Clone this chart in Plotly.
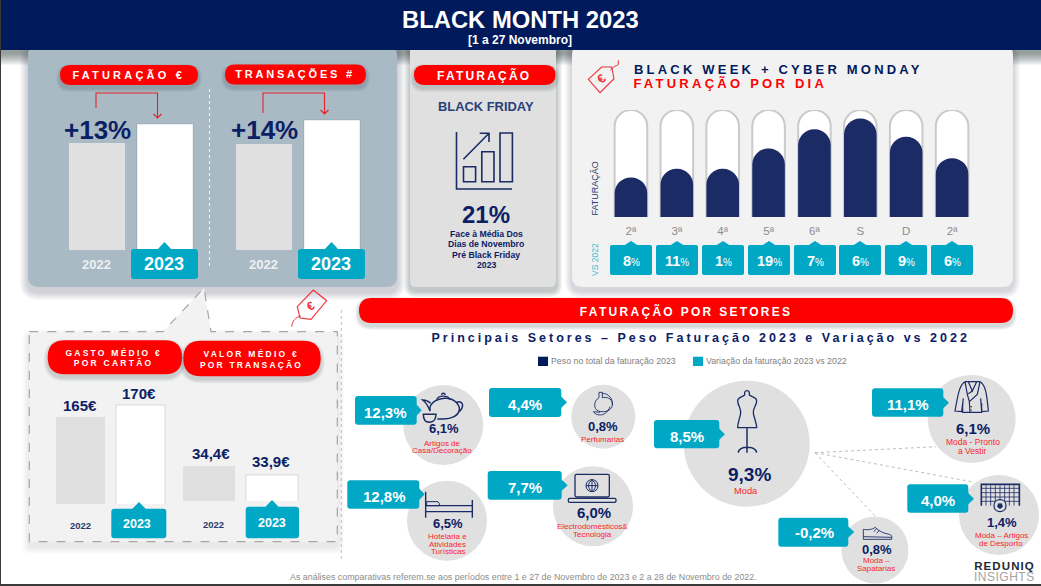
import json
import re

import plotly.graph_objects as go

W, H = 1041, 586

# data
anos = ["2022", "2023"]
faturacao_idx = [100, 113]
transacoes_idx = [100, 114]
gasto_cartao = [165, 170]
valor_transacao = [34.4, 33.9]
delta_faturacao = "+13%"
delta_transacoes = "+14%"
black_friday_delta = "21%"

dias = ["2ª", "3ª", "4ª", "5ª", "6ª", "S", "D", "2ª"]
dias_faturacao = [37, 45, 45, 64, 82, 92, 75, 55]
dias_escala = [100] * 8
dias_variacao = [8, 11, 1, 19, 7, 6, 9, 6]

setores = [
    ["Artigos de", "Casa/Decoração"],
    ["Perfumarias"],
    ["Hotelaria e", "Atividades", "Turísticas"],
    ["Electrodomésticos&", "Tecnologia"],
    ["Moda"],
    ["Moda - Pronto", "a Vestir"],
    ["Moda – Artigos", "de Desporto"],
    ["Moda –", "Sapatarias"],
]
setores_peso = [6.1, 0.8, 6.5, 6.0, 9.3, 6.1, 1.4, 0.8]
setores_variacao = [12.3, 4.4, 12.8, 7.7, 8.5, 11.1, 4.0, -0.2]

NAVY = "#001A5C"
INK = "#0C2064"
BAR_NAVY = "#1A2B66"
RED = "#FF0000"
TEAL = "#00A8C6"
GREY = "#E0E0E0"
TAG_RED = "#F0303A"
FONT = "Liberation Sans"

shapes = []
annotations = []
spacing = {}


def fx(x):
    return x / W


def fy(y):
    return 1 - y / H


def to_paper(path, ox=0, oy=0, s=1):
    # every coordinate in the path is absolute, x then y
    out, is_x = [], True
    for tok in re.findall(r"[A-Za-z]|-?[\d.]+", path):
        if tok.isalpha():
            out.append(tok)
        else:
            v = float(tok)
            out.append(f"{fx(ox + v * s):.5f}" if is_x else f"{fy(oy + v * s):.5f}")
            is_x = not is_x
    return " ".join(out)


def add_path(path, fill=None, line=None, lw=1, dash=None, layer="below", ox=0, oy=0, s=1):
    shapes.append(dict(
        type="path", path=to_paper(path, ox, oy, s), xref="paper", yref="paper", layer=layer,
        fillcolor=fill or "rgba(0,0,0,0)",
        line=dict(color=line or "rgba(0,0,0,0)", width=lw if line else 0, dash=dash or "solid"),
    ))


def rr(x0, y0, x1, y1, r):
    return (f"M {x0+r} {y0} L {x1-r} {y0} Q {x1} {y0} {x1} {y0+r} L {x1} {y1-r} Q {x1} {y1} {x1-r} {y1} "
            f"L {x0+r} {y1} Q {x0} {y1} {x0} {y1-r} L {x0} {y0+r} Q {x0} {y0} {x0+r} {y0} Z")


def shadow(x0, y0, x1, y1, r, dy=4, n=7, alpha=0.028):
    for i in range(n, 0, -1):
        add_path(rr(x0 - i, y0 - i + dy, x1 + i, y1 + i + dy, r + i), fill=f"rgba(40,50,60,{alpha})")


def card(x0, y0, x1, y1, r, fill, **kw):
    shadow(x0, y0, x1, y1, r, **kw)
    add_path(rr(x0, y0, x1, y1, r), fill=fill)


def pill(x0, y0, x1, y1, r=None):
    r = r if r is not None else (y1 - y0) / 2
    shadow(x0, y0, x1, y1, r, dy=3, n=4, alpha=0.05)
    add_path(rr(x0, y0, x1, y1, r), fill=RED)


def tab_up(x0, y0, x1, y1, ax, ay, r=3):
    add_path(rr(x0, y0, x1, y1, r), fill=TEAL, layer="above")
    add_path(f"M {ax-7} {y0+0.5} L {ax} {ay} L {ax+7} {y0+0.5} Z", fill=TEAL, layer="above")


def tile_right(x0, y0, x1, y1, ax, ay, r=3):
    add_path(rr(x0, y0, x1, y1, r), fill=TEAL, layer="above")
    add_path(f"M {x1-0.5} {ay-6} L {ax} {ay} L {x1-0.5} {ay+6} Z", fill=TEAL, layer="above")


def txt(x, y, s, size, color, bold=False, angle=0, ls=None):
    if ls:
        spacing[len(annotations)] = ls
    annotations.append(dict(
        x=fx(x), y=fy(y), xref="paper", yref="paper", text=s, showarrow=False,
        xanchor="center", yanchor="middle", textangle=angle,
        font=dict(family=FONT, size=size, color=color, weight=700 if bold else 400),
    ))


def line(path, color, lw=1, dash=None, layer="below", **kw):
    add_path(path, line=color, lw=lw, dash=dash, layer=layer, **kw)


# header shadow
shadow(0, 0, W, 50, 0, dy=3, n=12, alpha=0.05)

# panel 1
card(28, 45, 397, 287, 10, "#A9BAC5", dy=5, n=8)
pill(60, 65, 198, 85)
pill(225, 64.5, 366, 84.5)
txt(128.5, 75, "FATURAÇÃO €", 11, "white", True, ls=3.2)
txt(295, 74.5, "TRANSAÇÕES #", 11, "white", True, ls=2.8)
line("M 209.5 89 L 209.5 269", "#F4F6F8", 1, "dot")
red_l = "#E5232B"
line("M 96 108 L 96 93 L 157.5 93 L 157.5 118 M 153.5 114 L 157.5 118 L 161.5 114", red_l, 1.1)
line("M 263 113 L 263 93 L 324.5 93 L 324.5 114 M 320.5 110 L 324.5 114 L 328.5 110", red_l, 1.1)
txt(97.5, 130, delta_faturacao, 26, INK, True)
txt(264, 130, delta_transacoes, 26, INK, True)
tab_up(131, 249, 198, 279, 164.5, 242)
tab_up(298, 249, 365, 279, 331.5, 242)
txt(96, 264.5, anos[0], 13, "#EEF1F3", True)
txt(164, 264, anos[1], 18, "white", True)
txt(263, 264.5, anos[0], 13, "#EEF1F3", True)
txt(331, 264, anos[1], 18, "white", True)

# panel 2
card(410, 45, 556, 287, 6, GREY, dy=4, n=6, alpha=0.05)
pill(414, 65, 555.5, 85)
txt(484, 75, "FATURAÇÃO", 12, "white", True, ls=2.2)
txt(486, 106.5, "BLACK FRIDAY", 12.9, "#2B3F78", True)
line("M 456.5 132 L 456.5 189 L 512 189", "#1A2B66", 1.6)
for bx0, by0, bx1 in [(463.5, 166.7, 475.6), (481.8, 151.7, 494), (500, 133, 512.4)]:
    line(f"M {bx0} {by0} L {bx1} {by0} L {bx1} 181.7 L {bx0} 181.7 Z", "#1A2B66", 1.6)
line("M 463.4 159.3 L 489 133.3 M 479.7 133.3 L 489 133.3 L 489 142", "#1A2B66", 1.6)
txt(486, 214, black_friday_delta, 24, INK, True)
for yy, s in zip([234, 244, 255, 265], ["Face à Média Dos", "Dias de Novembro", "Pré Black Friday", "2023"]):
    txt(486, yy, s, 8.7, INK, True)

# panel 3
card(572, 45, 1013, 287, 10, "#F2F2F2", dy=4, n=7)

# header bar goes over the tops of the cards
add_path(f"M 0 0 L {W} 0 L {W} 50 L 0 50 Z", fill=NAVY)
txt(520.5, 19, "BLACK MONTH 2023", 23.8, "white", True)
txt(520, 40, "[1 a 27 Novembro]", 12, "white", True)

line("M 588.3 79.3 L 601.7 67 L 611.7 67 L 614 78.7 L 600 92.7 Z", TAG_RED, 1.1)
line("M 610.7 70.3 C 612 67 616 66 618.3 64.7 L 618.3 60.3", TAG_RED, 1)
txt(601.5, 79, "€", 12.5, TAG_RED, True, angle=-40)
txt(778, 69.5, "BLACK WEEK + CYBER MONDAY", 13, NAVY, True, ls=3.2)
txt(730.5, 83.5, "FATURAÇÃO POR DIA", 13, RED, True, ls=3.25)
txt(594.5, 189, "FATURAÇÃO", 9, "#2A3A6A", angle=-90)
txt(595, 260, "VS 2022", 8.5, "#44BAD0", angle=-90)
dias_x = [631, 677, 723, 769, 815, 860, 906, 952]
for cx, v in zip(dias_x, dias_variacao):
    tab_up(cx - 21, 245, cx + 21, 275, cx, 241, r=2)
    txt(cx, 261, f'<b>{v}</b><span style="font-size:10px">%</span>', 14.5, "white")

# gasto / valor panel
call = "M 29.3 331.7 L 163 331.7 L 204 288 L 211 331.7 L 337.3 331.7 L 337.3 541.7 L 29.3 541.7 Z"
for i in range(7, 0, -1):
    add_path(rr(29.3 - i, 331.7 - i + 5, 337.3 + i, 541.7 + i + 5, 2 + i), fill="rgba(40,50,60,0.015)")
add_path(call, fill="#F2F2F2", line="#A6A6A6", lw=1.2, dash="dash")
pill(47.7, 340.3, 182, 374.3)
pill(183.3, 340.7, 320.7, 376.3)
txt(114, 352.7, "GASTO MÉDIO €", 8.5, "white", True, ls=2.25)
txt(114, 363, "POR CARTÃO", 8.5, "white", True, ls=2.25)
txt(251, 354, "VALOR MÉDIO €", 8.5, "white", True, ls=2.25)
txt(251, 364.5, "POR TRANSAÇÃO", 8.5, "white", True, ls=2.15)
line("M 297.3 306.7 L 313.3 290 L 326.7 300.7 L 311 319.3 L 300 318 Z", TAG_RED, 1.1)
line("M 300.7 316 C 296 317 292 321 291.7 326.7", TAG_RED, 1)
txt(310.7, 305.5, "€", 12, TAG_RED, True, angle=-30)
line("M 341.3 310 L 341.3 562", "#BDBDBD", 1, "dot")


def euro(v):
    return f"{v:g}".replace(".", ",") + "€"


txt(79.5, 405, euro(gasto_cartao[0]), 15, INK, True)
txt(139, 393.5, euro(gasto_cartao[1]), 15, INK, True)
txt(211, 453.5, euro(valor_transacao[0]), 15, INK, True)
txt(271, 461.7, euro(valor_transacao[1]), 15, INK, True)
tab_up(111.3, 508.7, 166.3, 538.3, 139, 502)
tab_up(245.7, 506.7, 299, 538.3, 272, 500)
txt(80.7, 525, anos[0], 9.5, "#2A3A6A", True)
txt(137, 524, anos[1], 12.5, "white", True)
txt(213, 524, anos[0], 9.5, "#2A3A6A", True)
txt(272, 523, anos[1], 12.5, "white", True)

# sector header and legend
pill(359, 298, 1013, 323)
txt(685.5, 311, "FATURAÇÃO POR SETORES", 12, "white", True, ls=2.3)
txt(700, 338, "Principais Setores – Peso Faturação 2023 e Variação vs 2022", 12.5, INK, True, ls=3.0)
add_path("M 538 356.7 L 548 356.7 L 548 366 L 538 366 Z", fill=NAVY)
txt(613.5, 361, "Peso no total da faturação 2023", 8.8, "#808080")
add_path("M 693 356.7 L 703 356.7 L 703 366 L 693 366 Z", fill=TEAL)
txt(776.5, 361, "Variação da faturação 2023 vs 2022", 8.8, "#808080")

# layout of the sector bubbles: circle, tile, pct label, name label
bubbles = [
    dict(c=(443.3, 425, 40), t=(355, 396, 416.7, 424.7, 421.7, 410.3), tt=(385.7, 412), p=(444.3, 428.7, 13), n=(442, 443.3), ln=7.4, fs=8),
    dict(c=(603.3, 416.7, 32), t=(489, 388, 561.3, 417, 567, 402.3), tt=(525, 404), p=(602.7, 426.7, 13), n=(602.7, 439.3), ln=7.4, fs=8),
    dict(c=(447, 520.7, 40), t=(347.3, 480.3, 419.3, 508.7, 424.7, 494.3), tt=(384, 496), p=(448, 523.7, 13), n=(447.7, 536.3), ln=7.7, fs=8),
    dict(c=(593, 506.3, 40), t=(487.7, 471, 561.7, 499.7, 567.7, 485.3), tt=(525, 487), p=(593.7, 512, 15), n=(592, 526.3), ln=8, fs=8),
    dict(c=(746.7, 443.7, 63), t=(654, 420, 719.3, 448.3, 725, 434.3), tt=(687.3, 436), p=(749, 474.7, 19), n=(746.3, 490.7), ln=9, fs=9.3),
    dict(c=(971.7, 419, 44), t=(872, 388.3, 943.3, 416.7, 949, 402.7), tt=(908.3, 404), p=(973.3, 428.3, 15), n=(972.7, 442), ln=9, fs=8.5),
    dict(c=(999, 515, 40), t=(907.3, 484.3, 968.3, 512.7, 974, 498.7), tt=(937.7, 500), p=(1001.7, 522.7, 13), n=(1001, 535.3), ln=8, fs=8),
    dict(c=(875, 550, 33.5), t=(778.3, 517.7, 848.3, 546.7, 854.3, 532), tt=(814.3, 532.7), p=(876.7, 549, 13), n=(876.3, 560.3), ln=8, fs=8),
]


def pct(v):
    return f"{v:.1f}".replace(".", ",") + "%"


for b in bubbles:
    cx, cy, r = b["c"]
    shapes.append(dict(type="circle", xref="paper", yref="paper", layer="below",
                       x0=fx(cx - r), x1=fx(cx + r), y0=fy(cy + r), y1=fy(cy - r),
                       fillcolor=GREY, line=dict(width=0)))
line("M 815 452.7 L 936 446.7", "#BDBDBD", 1, "dot")
line("M 815 452.7 L 971.7 481.7", "#BDBDBD", 1, "dot")
line("M 815 452.7 L 876.7 517.7", "#BDBDBD", 1, "dot")

for b, nome, peso, var in zip(bubbles, setores, setores_peso, setores_variacao):
    tile_right(*b["t"])
    txt(*b["tt"], pct(var), 15, "white", True)
    txt(b["p"][0], b["p"][1], pct(peso), b["p"][2], INK, True)
    for i, s in enumerate(nome):
        txt(b["n"][0], b["n"][1] + i * b["ln"], s, b["fs"], "#FA1E2E")

# icons, drawn in crop coordinates (s=1/3)
ic = dict(layer="above", s=1 / 3)
z4 = dict(ox=340, oy=295, **ic)
z5 = dict(ox=640, oy=340, **ic)
# teapot
tp = dict(ox=410, oy=385, **ic)
line("M 60 78 C 55 50 90 38 110 40 C 135 42 150 60 148 75 C 145 92 125 102 100 102 L 82 102", BAR_NAVY, 1.5, **tp)
line("M 80 44 C 85 30 115 30 120 44 M 95 30 C 95 23 105 23 105 30", BAR_NAVY, 1.4, **tp)
line("M 60 78 C 55 65 45 50 38 45 C 45 45 55 48 62 55 M 140 52 C 158 46 165 62 148 80", BAR_NAVY, 1.5, **tp)
line("M 40 88 L 78 88 C 78 105 68 112 58 112 C 48 112 40 105 40 88 Z", BAR_NAVY, 1.5, **tp)
# perfume
pf = dict(ox=585, oy=385, **ic)
line("M 42 22 L 52 22 L 52 38 M 42 22 L 42 38 C 25 48 25 72 40 78 C 60 85 85 75 82 55 C 80 40 65 35 52 38", BAR_NAVY, 0.9, **pf)
line("M 25 80 C 35 95 65 95 75 65 M 52 25 C 70 25 85 42 82 60 M 25 80 L 45 82", BAR_NAVY, 0.9, **pf)
# bed
line("M 257 590 L 257 668 M 397 615 L 397 668 M 257 632 L 397 632 M 257 650 L 397 650", BAR_NAVY, 1.4, **z4)
line("M 260 620 L 294 620 L 298 626 L 298 632 L 260 632 Z", BAR_NAVY, 1, **z4)
# laptop
line(rr(705, 538, 808, 606, 5), BAR_NAVY, 1.3, **z4)
line(rr(685, 610, 828, 622, 4), BAR_NAVY, 1.3, **z4)
line("M 738 572 C 738 548 774 548 774 572 C 774 596 738 596 738 572 Z M 738 572 L 774 572 M 756 554 L 756 590 M 756 554 C 742 565 742 580 756 590 M 756 554 C 770 565 770 580 756 590", BAR_NAVY, 1, **z4)
# mannequin
line("M 314 165 C 305 172 293 172 293 182 C 293 198 305 205 302 220 C 300 232 293 250 293 263 L 350 263 C 350 250 342 232 340 220 C 337 205 350 198 350 182 C 350 172 337 172 328 165 L 328 157 C 325 150 317 150 314 157 Z", BAR_NAVY, 1.3, **z5)
line("M 321 265 L 321 338 M 295 338 C 295 316 347 316 350 338", BAR_NAVY, 1.5, **z5)
# jacket
jk = dict(ox=940, oy=375, **ic)
line("M 75 20 C 60 28 55 50 45 108 L 65 110 L 70 70 M 120 20 C 135 28 140 50 145 108 L 125 110 L 122 70", BAR_NAVY, 1.2, **jk)
line("M 75 20 L 120 20 M 75 20 L 82 58 L 88 80 L 90 112 M 85 20 L 97 48 L 110 20 M 120 20 L 112 58 L 88 80", BAR_NAVY, 1.2, **jk)
line("M 68 85 L 68 112 L 125 112 L 125 85 M 97 48 L 85 56 M 92 95 L 96 95 M 92 105 L 96 105", BAR_NAVY, 1.2, **jk)
# goal
net = "".join(f"M {x} 436 L {x} 497 " for x in (1038, 1052, 1066, 1080, 1094, 1108, 1122))
net += "".join(f"M 1024 {y} L 1138 {y} " for y in (445, 458, 471, 484))
line(net, BAR_NAVY, 0.8, **z5)
line("M 1024 497 L 1024 433 L 1138 433 L 1138 497", BAR_NAVY, 1.6, **z5)
add_path("M 1062 497 C 1062 473 1098 473 1098 497 C 1098 521 1062 521 1062 497 Z", fill=GREY, line=BAR_NAVY, lw=1.2, **z5)
add_path("M 1075 491 L 1085 491 L 1088 500 L 1080 506 L 1072 500 Z", fill=BAR_NAVY, line=BAR_NAVY, lw=0.6, **z5)
# shoe
line("M 670 568 L 670 590 L 755 592 C 758 586 750 583 735 580 C 720 575 712 568 706 562 C 695 570 680 570 670 568 Z M 670 590 L 670 598 L 755 598 L 755 592 M 710 565 L 702 575 M 718 571 L 710 580", BAR_NAVY, 0.9, **z5)

# footer, logo and page edge
txt(523.5, 577, "As análises comparativas referem.se aos períodos entre 1 e 27 de Novembro de 2023 e 2 a 28 de Novembro de 2022.", 8.9, "#8C8C8C")
txt(1004, 566, "REDUNIQ", 11.5, "#1E2A38", True, ls=1.1)
txt(1004, 577, "INSIGHTS", 12, "#A3A3A3", ls=0.5)
add_path("M 0 0 L 1 0 L 1 586 L 0 586 Z", fill="#3A3A3A", layer="above")
add_path(f"M 0 584 L {W} 584 L {W} 586 L 0 586 Z", fill="#3A3A3A", layer="above")

fig = go.Figure()


def year_bars(n, values, x0, x1, y0, y1, yr, bar_w):
    # one small two-bar chart with its own pair of axes
    edge = "rgba(70,80,90,0.18)"
    fig.add_trace(go.Bar(
        x=anos, y=values, xaxis=f"x{n}", yaxis=f"y{n}", hoverinfo="skip", width=bar_w,
        marker=dict(color=[GREY, "white"], line=dict(color=["rgba(0,0,0,0)", edge], width=1)),
    ))
    fig.layout[f"xaxis{n}"] = dict(domain=[fx(x0), fx(x1)], type="category", visible=False, anchor=f"y{n}")
    fig.layout[f"yaxis{n}"] = dict(domain=[fy(y1), fy(y0)], range=yr, visible=False, anchor=f"x{n}")


year_bars(2, faturacao_idx, 63, 199, 100, 250, [26.8, 129.5], 0.824)
year_bars(3, transacoes_idx, 230, 366, 100, 250, [38.2, 125.7], 0.824)
year_bars(4, gasto_cartao, 50.5, 170.5, 380, 504, [128.75, 180.45], 0.817)
year_bars(5, valor_transacao, 177.5, 303.5, 440, 501, [32.46, 35.85], 0.825)

# the daily capsules: white tube behind, navy fill in front
# separate axes, because in one overlay only the tallest bar gets rounded corners
fig.add_trace(go.Bar(
    x=list(range(8)), y=dias_escala, xaxis="x6", yaxis="y6", hoverinfo="skip", width=0.71,
    marker=dict(color="white", line=dict(color="#CACACA", width=2), cornerradius=17),
))
fig.add_trace(go.Bar(
    x=list(range(8)), y=dias_faturacao, xaxis="x7", yaxis="y7", hoverinfo="skip", width=0.71,
    marker=dict(color=BAR_NAVY, line=dict(width=0), cornerradius=16),
))
fig.update_layout(
    xaxis6=dict(domain=[fx(608), fx(975)], range=[-0.5, 7.5], anchor="y6", tickmode="array",
                tickvals=list(range(8)), ticktext=dias, showgrid=False, zeroline=False, showline=False,
                ticks="", ticklabelstandoff=5, tickfont=dict(family=FONT, size=11.5, color="#8C8C8C")),
    yaxis6=dict(domain=[fy(217), fy(110)], range=[0, 100], visible=False, anchor="x6"),
    xaxis7=dict(domain=[fx(608), fx(975)], range=[-0.5, 7.5], anchor="y7", visible=False),
    yaxis7=dict(domain=[fy(217), fy(110)], range=[0, 100], visible=False, anchor="x7"),
    width=W,
    height=H,
    margin=dict(l=0, r=0, t=0, b=0),
    paper_bgcolor="white",
    plot_bgcolor="rgba(0,0,0,0)",
    barmode="overlay",
    showlegend=False,
    shapes=shapes,
    annotations=annotations,
)

# plotly has no letter-spacing option, so set it on the drawn annotation text
post = """
document.body.style.margin = '0';
document.documentElement.style.overflow = 'hidden';
var sp = %s;
document.querySelectorAll('.annotation').forEach(function (g) {
  var i = g.getAttribute('data-index');
  if (sp[i] !== undefined) { g.querySelector('.annotation-text').style.letterSpacing = sp[i] + 'px'; }
});
""" % json.dumps(spacing)

fig.write_html("out.html", post_script=post, config={"displayModeBar": False})
